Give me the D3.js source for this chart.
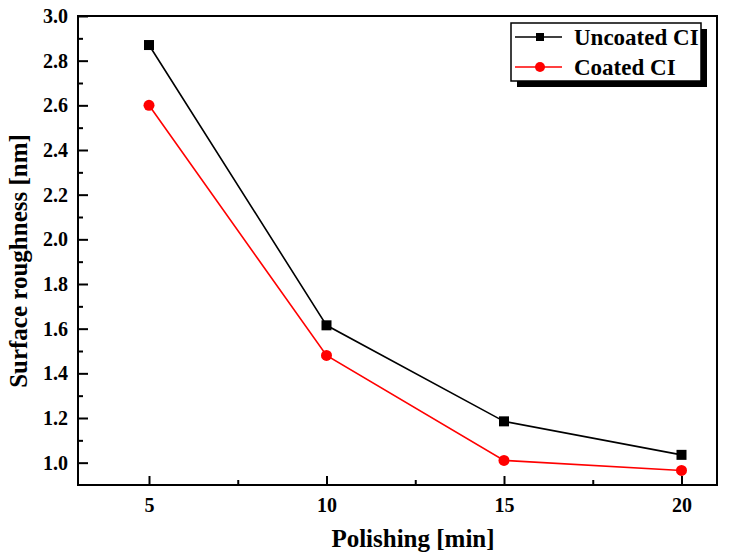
<!DOCTYPE html>
<html>
<head>
<meta charset="utf-8">
<script src="https://cdn.jsdelivr.net/npm/d3@7"></script>
<style>
  html, body { margin: 0; padding: 0; background: #fff; }
  svg { display: block; }
  text { font-family: "Liberation Serif", "Times New Roman", serif; font-weight: bold; fill: #000; }
</style>
</head>
<body>
<script>
const times = [5, 10, 15, 20];
const uncoated = [2.87, 1.615, 1.185, 1.035];
const coated = [2.60, 1.48, 1.01, 0.965];
const seriesNames = ["Uncoated CI", "Coated CI"];
const xTicks = [5, 10, 15, 20];
const yTicks = [1.0, 1.2, 1.4, 1.6, 1.8, 2.0, 2.2, 2.4, 2.6, 2.8, 3.0];
const xLabel = "Polishing [min]";
const yLabel = "Surface roughness [nm]";

const W = 735, H = 556;
const m = { left: 78, top: 16, right: 717, bottom: 485 };

const svg = d3.select("body").append("svg").attr("width", W).attr("height", H);

const x = d3.scaleLinear().domain([3, 21]).range([m.left, m.right]);
const y = d3.scaleLinear().domain([0.9, 3.0]).range([m.bottom, m.top]);

// minor ticks
const xMinor = [7.5, 12.5, 17.5];
const yMinor = [1.1, 1.3, 1.5, 1.7, 1.9, 2.1, 2.3, 2.5, 2.7, 2.9];

const gx = svg.append("g").attr("transform", `translate(0,${m.bottom})`);
gx.call(d3.axisBottom(x).tickValues(xMinor).tickSize(-5).tickFormat(""));
gx.call(g => g.selectAll(".domain").remove());
const gx2 = svg.append("g").attr("transform", `translate(0,${m.bottom})`);
gx2.call(d3.axisBottom(x).tickValues(xTicks).tickSize(-9).tickPadding(13).tickFormat(d3.format("d")));
gx2.select(".domain").remove();
gx2.selectAll("text").attr("font-size", 20).attr("dy", "0.71em").style("font-family", '"Liberation Serif", serif').style("font-weight", "bold");

const gy = svg.append("g").attr("transform", `translate(${m.left},0)`);
gy.call(d3.axisLeft(y).tickValues(yMinor).tickSize(-5).tickFormat(""));
gy.select(".domain").remove();
const gy2 = svg.append("g").attr("transform", `translate(${m.left},0)`);
gy2.call(d3.axisLeft(y).tickValues(yTicks).tickSize(-10).tickPadding(10).tickFormat(d3.format(".1f")));
gy2.select(".domain").remove();
gy2.selectAll("text").attr("font-size", 20).style("font-family", '"Liberation Serif", serif').style("font-weight", "bold");

svg.selectAll(".tick line").attr("stroke", "#000").attr("stroke-width", 2);

// frame
svg.append("rect")
  .attr("x", m.left).attr("y", m.top)
  .attr("width", m.right - m.left).attr("height", m.bottom - m.top)
  .attr("fill", "none").attr("stroke", "#000").attr("stroke-width", 2);

const line = d3.line().x((d, i) => x(times[i])).y(d => y(d));

const series = [
  { name: seriesNames[0], values: uncoated, color: "#000000", shape: "square" },
  { name: seriesNames[1], values: coated, color: "#ff0000", shape: "circle" }
];

series.slice().reverse().forEach(s => {
  svg.append("path").datum(s.values)
    .attr("d", line).attr("fill", "none")
    .attr("stroke", s.color).attr("stroke-width", 1.6);
});
series.forEach(s => {
  const g = svg.append("g");
  if (s.shape === "square") {
    g.selectAll("rect").data(s.values).join("rect")
      .attr("x", (d, i) => x(times[i]) - 5).attr("y", d => y(d) - 5)
      .attr("width", 10).attr("height", 10).attr("fill", s.color);
  } else {
    g.selectAll("circle").data(s.values).join("circle")
      .attr("cx", (d, i) => x(times[i])).attr("cy", d => y(d))
      .attr("r", 5.5).attr("fill", s.color);
  }
});

// legend
const lg = { x: 511, y: 23, w: 190, h: 58 };
svg.append("rect").attr("x", lg.x + 6).attr("y", lg.y + 6).attr("width", lg.w).attr("height", lg.h).attr("fill", "#000");
svg.append("rect").attr("x", lg.x).attr("y", lg.y).attr("width", lg.w).attr("height", lg.h)
  .attr("fill", "#fff").attr("stroke", "#000").attr("stroke-width", 1.5);
series.forEach((s, i) => {
  const cy = 37 + i * 30;
  svg.append("line").attr("x1", 515).attr("x2", 562).attr("y1", cy).attr("y2", cy)
    .attr("stroke", s.color).attr("stroke-width", 1.6);
  if (s.shape === "square") {
    svg.append("rect").attr("x", 540 - 4).attr("y", cy - 4).attr("width", 8).attr("height", 8).attr("fill", s.color);
  } else {
    svg.append("circle").attr("cx", 540).attr("cy", cy).attr("r", 5).attr("fill", s.color);
  }
  svg.append("text").attr("x", 574).attr("y", cy + 8).attr("font-size", 23).text(s.name);
});

// axis titles
svg.append("text").attr("x", 413).attr("y", 547).attr("text-anchor", "middle").attr("font-size", 25).text(xLabel);
svg.append("text").attr("transform", "translate(27,261) rotate(-90)").attr("text-anchor", "middle").attr("font-size", 25).text(yLabel);
</script>
</body>
</html>
